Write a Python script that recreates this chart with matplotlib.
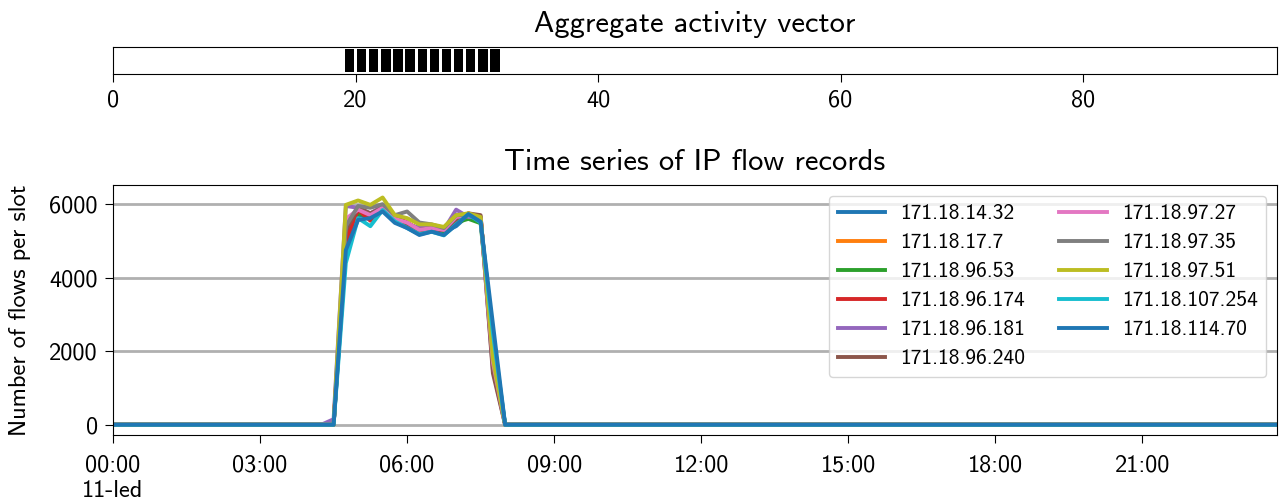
import numpy as np
import matplotlib
matplotlib.use("Agg")
import matplotlib.pyplot as plt

plt.rcParams['font.family'] = ['cmss10', 'DejaVu Sans']
plt.rcParams['axes.unicode_minus'] = False

# 96 slots of 15 minutes over one day
n_slots = 96
slot_hours = np.arange(n_slots) * 0.25

# first slot with traffic
start_slot = 18

ips = ['171.18.14.32', '171.18.17.7', '171.18.96.53', '171.18.96.174',
       '171.18.96.181', '171.18.96.240', '171.18.97.27', '171.18.97.35',
       '171.18.97.51', '171.18.107.254', '171.18.114.70']

# flows per slot from 04:30 to 07:45, zero outside
flows_14_32 = [0, 4800, 5700, 5650, 5850, 5600, 5450, 5250, 5250, 5250, 5400, 5700, 5550, 2400]
flows_17_7 = [0, 5200, 5800, 5700, 5900, 5650, 5500, 5300, 5350, 5300, 5500, 5750, 5600, 2200]
flows_96_53 = [0, 5100, 5750, 5650, 5850, 5600, 5450, 5350, 5300, 5250, 5500, 5600, 5480, 2100]
flows_96_174 = [0, 5000, 5850, 5550, 5900, 5650, 5500, 5300, 5300, 5300, 5500, 5700, 5650, 1900]
flows_96_181 = [150, 5950, 5900, 5750, 5950, 5600, 5450, 5350, 5400, 5300, 5850, 5650, 5650, 1500]
flows_96_240 = [0, 5300, 5900, 5750, 5900, 5650, 5450, 5300, 5350, 5300, 5550, 5750, 5700, 1400]
flows_97_27 = [0, 5600, 5850, 5700, 5900, 5600, 5500, 5300, 5350, 5300, 5650, 5700, 5600, 1700]
flows_97_35 = [0, 5400, 5950, 5900, 6000, 5700, 5800, 5500, 5450, 5350, 5700, 5700, 5600, 2000]
flows_97_51 = [0, 5980, 6100, 5980, 6180, 5700, 5620, 5450, 5450, 5380, 5700, 5750, 5650, 1800]
flows_107_254 = [0, 4400, 5620, 5400, 5840, 5530, 5350, 5180, 5250, 5150, 5450, 5720, 5500, 2500]
flows_114_70 = [0, 4750, 5570, 5620, 5800, 5490, 5350, 5160, 5250, 5160, 5430, 5730, 5520, 2750]

active_flows = [flows_14_32, flows_17_7, flows_96_53, flows_96_174, flows_96_181,
                flows_96_240, flows_97_27, flows_97_35, flows_97_51, flows_107_254,
                flows_114_70]

# slots marked as active in the aggregate vector
active_slots = [19, 20, 21, 22, 23, 24, 25, 26, 27, 28, 29, 30, 31]

hour_ticks = [0, 3, 6, 9, 12, 15, 18, 21]
hour_labels = ['00:00\n11-led', '03:00', '06:00', '09:00', '12:00', '15:00', '18:00', '21:00']

fig = plt.figure(figsize=(12.83, 5.04), dpi=100)

# aggregate activity vector
ax1 = fig.add_axes([0.0881, 0.8532, 0.9073, 0.0536])
ax1.bar(np.array(active_slots) + 0.5, np.ones(len(active_slots)), width=0.78, color='black')
ax1.set_xlim(0, 96)
ax1.set_ylim(-0.08, 1.08)
ax1.set_yticks([])
ax1.set_xticks([0, 20, 40, 60, 80])
ax1.tick_params(labelsize=17.5, length=6, pad=5)
ax1.set_title('Aggregate activity vector', fontsize=22, pad=11)

# time series per IP address
ax2 = fig.add_axes([0.0881, 0.1369, 0.9073, 0.4960])
for ip, vals in zip(ips, active_flows):
    series = np.zeros(n_slots)
    series[start_slot:start_slot + len(vals)] = vals
    ax2.plot(slot_hours, series, lw=2.8, label=ip)
ax2.set_xlim(0, 23.75)
ax2.set_ylim(-280, 6520)
ax2.set_yticks([0, 2000, 4000, 6000])
ax2.set_xticks(hour_ticks)
ax2.set_xticklabels(hour_labels)
ax2.tick_params(labelsize=17.5, length=6, pad=5)
ax2.tick_params(axis='x', pad=8)
ax2.yaxis.grid(True, color='#b0b0b0', lw=2)
ax2.set_axisbelow(True)
ax2.set_ylabel('Number of flows per slot', fontsize=17.5, labelpad=13)
ax2.set_title('Time series of IP flow records', fontsize=22, pad=11)
ax2.legend(loc='upper right', ncol=2, fontsize=15.5, handlelength=2.2,
           labelspacing=0.46, columnspacing=1.6, handletextpad=0.7)

fig.savefig('out.png', dpi=100)
